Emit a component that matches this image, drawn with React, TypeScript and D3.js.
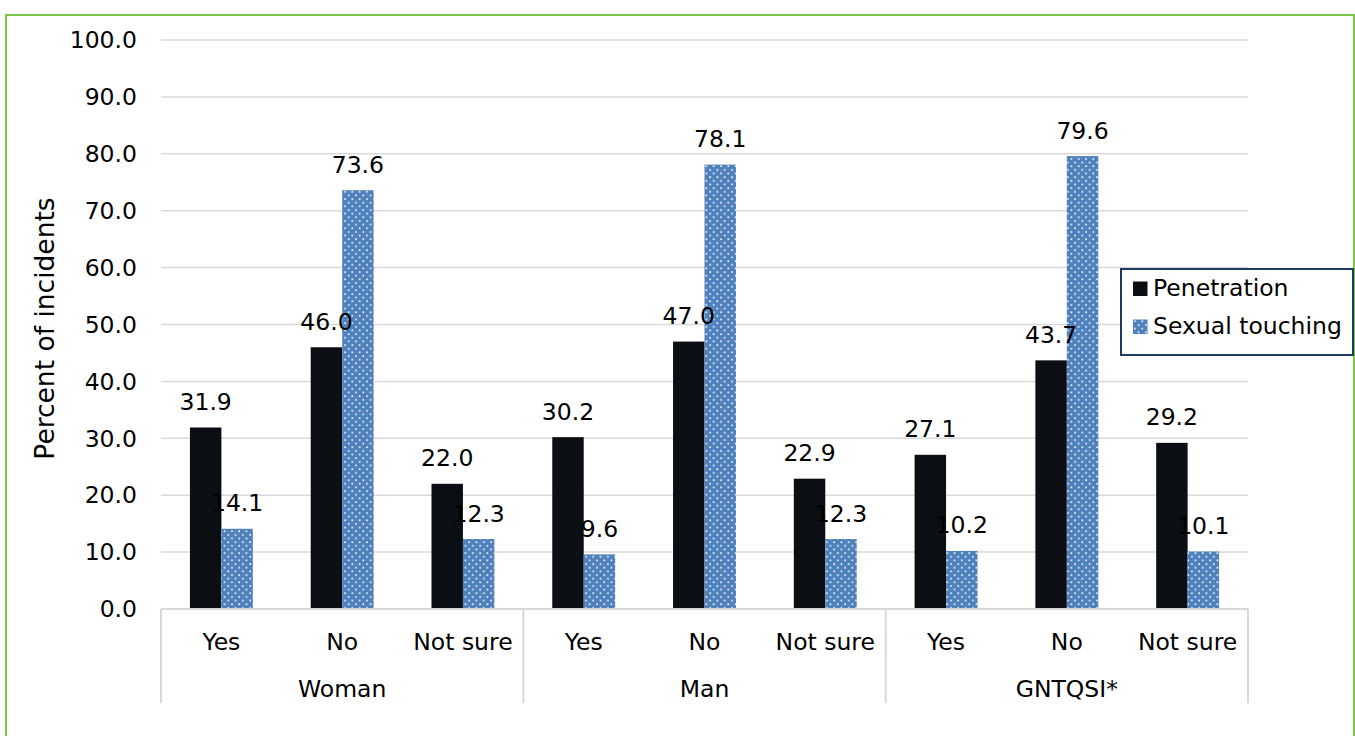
import React from "react";
import * as d3 from "d3";

const groups = ["Woman", "Man", "GNTQSI*"];
const answers = ["Yes", "No", "Not sure"];
const seriesNames = ["Penetration", "Sexual touching"];
const penetration = [31.9, 46.0, 22.0, 30.2, 47.0, 22.9, 27.1, 43.7, 29.2];
const sexualTouching = [14.1, 73.6, 12.3, 9.6, 78.1, 12.3, 10.2, 79.6, 10.1];
const yTicks = [0, 10, 20, 30, 40, 50, 60, 70, 80, 90, 100];

const W = 1355;
const H = 736;
const left = 161;
const right = 1248;
const top = 40;
const bottom = 609;
const FONT = "'DejaVu Sans', Verdana, sans-serif";
const FS = 23.5;
const BLACK = "#0b0f14";
const BLUE = "#4f81bd";
const GRID = "#d9d9d9";

export default function App() {
  const slots = groups.flatMap((g) => answers.map((a) => `${g}|${a}`));
  const x = d3.scaleBand<string>().domain(slots).range([left, right]).padding(0);
  const xg = d3.scaleBand<string>().domain(groups).range([left, right]).padding(0);
  const xs = d3
    .scaleBand<string>()
    .domain(seriesNames)
    .range([0, x.bandwidth()])
    .paddingInner(0)
    .paddingOuter(0.92);
  const y = d3.scaleLinear().domain([0, 100]).range([bottom, top]);
  const fmt = d3.format(".1f");
  const values = [penetration, sexualTouching];

  const sepXs = [...groups.map((g) => xg(g) as number), right];

  const marks = slots.flatMap((s, i) =>
    seriesNames.map((sn, k) => {
      const v = values[k][i];
      const bx = (x(s) as number) + (xs(sn) as number);
      return { key: s + sn, k, v, bx };
    })
  );

  return (
    <svg
      width={W}
      height={H}
      style={{ position: "absolute", left: 0, top: 0, fontFamily: FONT }}
    >
      <defs>
        <pattern id="dots" width={7.3} height={7.3} patternUnits="userSpaceOnUse">
          <rect width={7.3} height={7.3} fill={BLUE} />
          <rect x={1.2} y={1.2} width={1.6} height={1.6} fill="#ffffff" />
          <rect x={4.85} y={4.85} width={1.6} height={1.6} fill="#ffffff" />
        </pattern>
      </defs>
      <rect x={0} y={0} width={W} height={H} fill="#ffffff" />
      <rect
        x={6}
        y={15}
        width={1348}
        height={H + 10}
        fill="none"
        stroke="#7dc44a"
        strokeWidth={2}
      />

      {/* gridlines */}
      {yTicks.map((t) => (
        <g key={t}>
          <line x1={left} x2={right} y1={y(t)} y2={y(t)} stroke={GRID} strokeWidth={t === 0 ? 2 : 1.5} />
          <text x={137} y={y(t)} dy="0.35em" textAnchor="end" fontSize={FS} fill="#000">
            {fmt(t)}
          </text>
        </g>
      ))}

      {/* bars */}
      {marks.map((m) => (
        <rect
          key={m.key}
          x={m.bx}
          y={y(m.v)}
          width={xs.bandwidth()}
          height={bottom - y(m.v)}
          fill={m.k === 0 ? BLACK : "url(#dots)"}
        />
      ))}
      {/* data labels */}
      {marks.map((m) => (
        <text
          key={m.key + "l"}
          x={m.bx + xs.bandwidth() / 2}
          y={y(m.v) - 17.5}
          textAnchor="middle"
          fontSize={FS}
          fill="#000"
        >
          {fmt(m.v)}
        </text>
      ))}

      {/* category axis */}
      <line x1={left} x2={right} y1={bottom} y2={bottom} stroke={GRID} strokeWidth={2} />
      {sepXs.map((sx, i) => (
        <line key={i} x1={sx} x2={sx} y1={bottom} y2={703} stroke={GRID} strokeWidth={2} />
      ))}
      {slots.map((s) => (
        <text
          key={s}
          x={(x(s) as number) + x.bandwidth() / 2}
          y={650}
          textAnchor="middle"
          fontSize={FS}
          fill="#000"
        >
          {s.split("|")[1]}
        </text>
      ))}
      {groups.map((g) => (
        <text
          key={g}
          x={(xg(g) as number) + xg.bandwidth() / 2}
          y={697}
          textAnchor="middle"
          fontSize={FS}
          fill="#000"
        >
          {g}
        </text>
      ))}

      {/* y axis title */}
      <text
        transform={`translate(54, ${(top + bottom) / 2 + 4}) rotate(-90)`}
        textAnchor="middle"
        fontSize={26.5}
        fill="#000"
      >
        Percent of incidents
      </text>

      {/* legend */}
      <rect x={1121} y={269} width={232} height={86} fill="#fff" stroke="#1f3864" strokeWidth={2} />
      {seriesNames.map((sn, k) => (
        <g key={sn} transform={`translate(1133, ${296 + k * 38})`}>
          <rect x={0} y={-14.5} width={14.5} height={14.5} fill={k === 0 ? BLACK : "url(#dots)"} />
          <text x={20} y={0} fontSize={FS} fill="#000">
            {sn}
          </text>
        </g>
      ))}
    </svg>
  );
}
